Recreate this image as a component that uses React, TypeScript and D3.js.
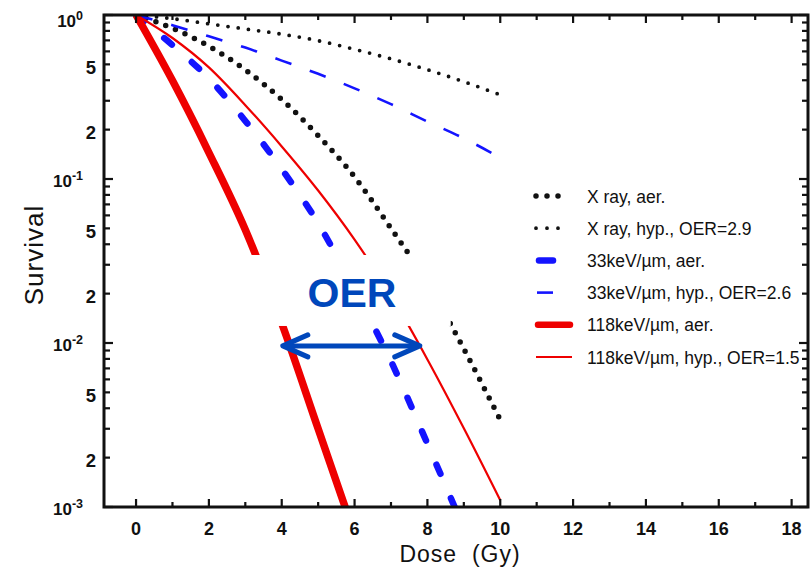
import * as d3 from 'd3';

// survival fractions, one value per Gy from 0
const doses = [0, 1, 2, 3, 4, 5, 6, 7, 8, 9, 10];
const xrayAer = [1, 0.83, 0.645, 0.463, 0.305, 0.184, 0.103, 0.05, 0.0233, 0.0092, 0.0034];
const xrayHyp = [1, 0.95, 0.883, 0.822, 0.764, 0.697, 0.618, 0.54, 0.464, 0.392, 0.326];
const let33Aer = [1, 0.655, 0.41, 0.226, 0.115, 0.0537, 0.0211, 0.00774, 0.00243, 0.00074];
const let33Hyp = [1, 0.867, 0.741, 0.633, 0.527, 0.438, 0.357, 0.286, 0.224, 0.177, 0.135];
const let118Aer = [1, 0.398, 0.145, 0.049, 0.0132, 0.003, 0.00068];
const let118Hyp = [1, 0.724, 0.479, 0.282, 0.158, 0.0851, 0.0427, 0.0195, 0.00794, 0.00302, 0.0011];

const legendLabels = [
  'X ray, aer.',
  'X ray, hyp., OER=2.9',
  '33keV/\u00b5m, aer.',
  '33keV/\u00b5m, hyp., OER=2.6',
  '118keV/\u00b5m, aer.',
  '118keV/\u00b5m, hyp., OER=1.5',
];

const xTicks = [0, 2, 4, 6, 8, 10, 12, 14, 16, 18];
const decades = [1e-3, 1e-2, 1e-1, 1];
const decadeExp = ['-3', '-2', '-1', '0'];

// OER annotation in data units
const oerArrow = { s: 0.0096, x0: 4.03, x1: 7.79 };
const oerBox = { x0: 2.99, x1: 8.64, s0: 0.0344, s1: 0.0127 };
const oerLabel = { x: 5.93, s: 0.0166 };

const W = 812, H = 572;
const left = 104, right = 808, top = 15, bottom = 507;
const BLUE = '#1414ff', RED = '#ee0000', OERBLUE = '#0047bb';
const font = '"Liberation Sans", Arial, sans-serif';

const x = d3.scaleLinear().domain([-0.88, 18.45]).range([left, right]);
const y = d3.scaleLog().domain([1e-3, 1]).range([bottom, top]);

const line = d3.line<[number, number]>()
  .x(d => x(d[0]))
  .y(d => y(d[1]))
  .curve(d3.curveMonotoneX);

const pts = (vals: number[]) => vals.map((v, i) => [doses[i], v] as [number, number]);

const series = [
  { vals: xrayAer, stroke: '#111', width: 5.5, dash: '0 10.5', cap: 'round' },
  { vals: xrayHyp, stroke: '#111', width: 3.8, dash: '0 10.3', cap: 'round' },
  { vals: let33Aer, stroke: BLUE, width: 6.5, dash: '10 26.5', cap: 'round' },
  { vals: let33Hyp, stroke: BLUE, width: 2.6, dash: '17 19.5', cap: 'butt' },
  { vals: let118Aer, stroke: RED, width: 7.5, dash: undefined, cap: 'butt' },
  { vals: let118Hyp, stroke: RED, width: 2.2, dash: undefined, cap: 'butt' },
];

export default function App() {
  const minorY: number[] = [];
  decades.slice(0, 3).forEach(d => {
    for (let k = 2; k <= 9; k++) minorY.push(d * k);
  });
  const minorX = d3.range(1, 19, 2);

  const legendY = (i: number) => 196 + i * 32.2;
  const ay = y(oerArrow.s);

  return (
    <svg width={W} height={H} style={{ position: 'absolute', left: 0, top: 0, background: '#fff' }}>
      <defs>
        <clipPath id="plot">
          <rect x={left} y={top} width={right - left} height={bottom - top} />
        </clipPath>
      </defs>

      {/* curves */}
      <g clipPath="url(#plot)" fill="none">
        {series.map((s, i) => (
          <path key={i} d={line(pts(s.vals)) || ''} stroke={s.stroke} strokeWidth={s.width}
            strokeDasharray={s.dash} strokeLinecap={s.cap as any} strokeLinejoin="round" />
        ))}
      </g>

      {/* white box behind OER label */}
      <rect x={x(oerBox.x0)} y={y(oerBox.s0)} width={x(oerBox.x1) - x(oerBox.x0)}
        height={y(oerBox.s1) - y(oerBox.s0)} fill="#fff" />
      <text x={x(oerLabel.x)} y={y(oerLabel.s)} textAnchor="middle" fontFamily={font}
        fontWeight="bold" fontSize={41} fill={OERBLUE}>OER</text>
      <g stroke={OERBLUE} strokeWidth={5} strokeLinecap="round" strokeLinejoin="round" fill="none">
        <line x1={x(oerArrow.x0) + 2} x2={x(oerArrow.x1) - 2} y1={ay} y2={ay} />
        <path d={`M${x(oerArrow.x0) + 25},${ay - 11} L${x(oerArrow.x0)},${ay} L${x(oerArrow.x0) + 25},${ay + 11}`} />
        <path d={`M${x(oerArrow.x1) - 25},${ay - 11} L${x(oerArrow.x1)},${ay} L${x(oerArrow.x1) - 25},${ay + 11}`} />
      </g>

      {/* ticks */}
      <g stroke="#111" strokeWidth={2.2}>
        {xTicks.map(t => (
          <g key={'xt' + t}>
            <line x1={x(t)} x2={x(t)} y1={bottom} y2={bottom - 8} />
            <line x1={x(t)} x2={x(t)} y1={top} y2={top + 8} />
          </g>
        ))}
        {minorX.map(t => (
          <g key={'xm' + t}>
            <line x1={x(t)} x2={x(t)} y1={bottom} y2={bottom - 5} />
            <line x1={x(t)} x2={x(t)} y1={top} y2={top + 5} />
          </g>
        ))}
        {decades.map(t => (
          <g key={'yt' + t}>
            <line x1={left} x2={left + 9} y1={y(t)} y2={y(t)} />
            <line x1={right} x2={right - 9} y1={y(t)} y2={y(t)} />
          </g>
        ))}
        {minorY.map(t => (
          <g key={'ym' + t}>
            <line x1={left} x2={left + 6} y1={y(t)} y2={y(t)} />
            <line x1={right} x2={right - 6} y1={y(t)} y2={y(t)} />
          </g>
        ))}
      </g>

      {/* frame */}
      <rect x={left} y={top} width={right - left} height={bottom - top} fill="none" stroke="#111" strokeWidth={3} />

      {/* tick labels */}
      <g fontFamily={font} fontWeight="bold" fill="#111">
        {xTicks.map(t => (
          <text key={'xl' + t} x={x(t)} y={535} textAnchor="middle" fontSize={18}>{t}</text>
        ))}
        {decades.map((t, i) => (
          <text key={'yl' + t} x={83} y={Math.max(y(t) + 8, 27)} textAnchor="end" fontSize={17}>
            10<tspan fontSize={12.5} dy={-7}>{decadeExp[i]}</tspan>
          </text>
        ))}
        {decades.slice(0, 3).map(d => [5, 2].map(k => (
          <text key={'yk' + d * k} x={96} y={y(d * k) + 9.5} textAnchor="end" fontSize={18.5}>{k}</text>
        )))}
      </g>

      {/* axis titles */}
      <text x={460} y={562} textAnchor="middle" fontFamily={font} fontSize={23} letterSpacing={1}
        fill="#111" style={{ whiteSpace: 'pre' }}>{'Dose  (Gy)'}</text>
      <text transform="translate(43,255) rotate(-90)" textAnchor="middle" fontFamily={font}
        fontSize={26} letterSpacing={1} fill="#111">Survival</text>

      {/* legend */}
      <g fontFamily={font} fontSize={17.5} fill="#111">
        {legendLabels.map((lab, i) => {
          const s = series[i];
          const ly = legendY(i);
          let x1 = 536, x2 = 570, dash = s.dash, cap = s.cap;
          if (i === 0 || i === 1) { x1 = 536; x2 = 569; dash = '0 11'; }
          if (i === 2) { x1 = 539; x2 = 553; dash = undefined; cap = 'round'; }
          if (i === 3) { x1 = 537; x2 = 553; dash = undefined; }
          if (i === 4) { x1 = 538; x2 = 570; cap = 'round'; }
          if (i === 5) { x1 = 536; x2 = 572; }
          return (
            <g key={lab}>
              <line x1={x1} x2={x2} y1={ly} y2={ly} stroke={s.stroke}
                strokeWidth={i === 4 ? 6.5 : s.width} strokeDasharray={dash} strokeLinecap={cap as any} />
              <text x={587} y={ly + 6.5}>{lab}</text>
            </g>
          );
        })}
      </g>
    </svg>
  );
}
